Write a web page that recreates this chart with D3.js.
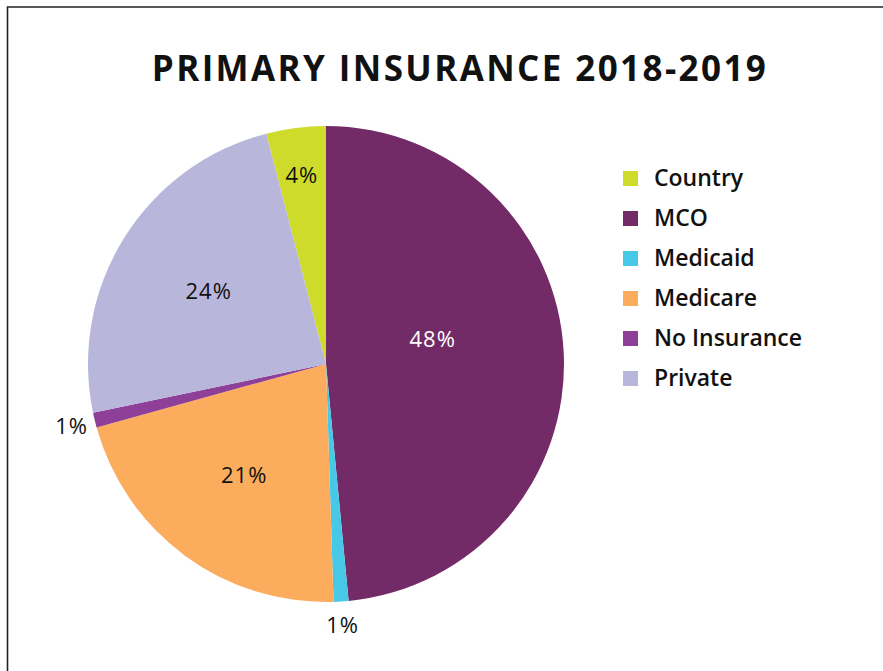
<!DOCTYPE html>
<html>
<head>
<meta charset="utf-8">
<script src="https://cdn.jsdelivr.net/npm/d3@7"></script>
<style>
  html, body { margin: 0; padding: 0; background: #fff; }
  svg { display: block; }
</style>
</head>
<body>
<svg id="chart" width="883" height="671"></svg>
<script>
// Primary insurance shares, 2018-2019 (percent)
const categories = ["Country", "MCO", "Medicaid", "Medicare", "No Insurance", "Private"];
const values = [4, 48, 1, 21, 1, 24];
const colors = ["#cfdb2a", "#722b67", "#47c8e6", "#fbad5d", "#8e3f97", "#b9b6db"];
const labelText = values.map(v => v + "%");

const W = 883, H = 671;
const svg = d3.select("#chart");
const font = "'Open Sans', sans-serif";

// frame
svg.append("path")
  .attr("d", `M7.5,${H} V7 H${W}`)
  .attr("fill", "none")
  .attr("stroke", "#222")
  .attr("stroke-width", 1.6);

// title
svg.append("text")
  .attr("x", 460).attr("y", 81)
  .attr("text-anchor", "middle")
  .attr("font-family", font)
  .attr("font-weight", 700)
  .attr("font-size", 35)
  .attr("letter-spacing", 2.4)
  .attr("fill", "#111")
  .text("PRIMARY INSURANCE 2018-2019");

const cx = 326, cy = 364, r = 238;
const total = d3.sum(values);
// Country slice sits just left of 12 o'clock, so MCO begins at the top
const start = -values[0] / total * 2 * Math.PI;
const pie = d3.pie().sort(null).value(d => d)
  .startAngle(start).endAngle(start + 2 * Math.PI);
const arcs = pie(values);
const arc = d3.arc().innerRadius(0).outerRadius(r);

const g = svg.append("g").attr("transform", `translate(${cx},${cy})`);
g.selectAll("path.slice")
  .data(arcs)
  .join("path")
  .attr("class", "slice")
  .attr("d", arc)
  .attr("fill", (d, i) => colors[i]);

// label anchor: slivers get an outside label, the rest sit inside
function labelPos(d, i) {
  let k, a = (d.startAngle + d.endAngle) / 2;
  if (values[i] <= 1) k = 1.10;
  else if (values[i] < 10) k = 0.80;
  else if (values[i] > 40) { k = 0.46; a -= 0.18; }
  else k = 0.58;
  return [Math.sin(a) * r * k, -Math.cos(a) * r * k];
}

g.selectAll("text.lbl")
  .data(arcs)
  .join("text")
  .attr("class", "lbl")
  .attr("transform", (d, i) => `translate(${labelPos(d, i)})`)
  .attr("text-anchor", "middle")
  .attr("dy", "0.36em")
  .attr("font-family", font)
  .attr("font-weight", 500)
  .attr("font-size", 22)
  .attr("letter-spacing", 1.0)
  .attr("fill", (d, i) => i === 1 ? "#fff" : "#111")
  .text((d, i) => labelText[i]);

// legend
const lg = svg.append("g").attr("transform", "translate(623,178)");
const rows = lg.selectAll("g").data(categories).join("g")
  .attr("transform", (d, i) => `translate(0,${i * 40})`);
rows.append("rect")
  .attr("x", 0).attr("y", -7).attr("width", 15).attr("height", 15)
  .attr("fill", (d, i) => colors[i]);
rows.append("text")
  .attr("x", 31).attr("y", 0)
  .attr("dy", "0.36em")
  .attr("font-family", font)
  .attr("font-weight", 600)
  .attr("font-size", 23)
  .attr("fill", "#111")
  .text(d => d);
</script>
</body>
</html>
